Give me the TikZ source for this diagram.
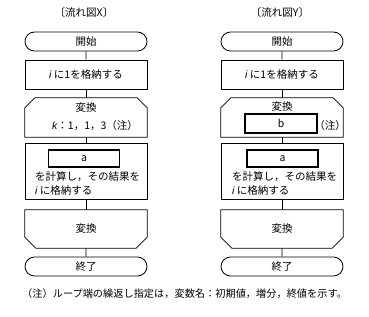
\documentclass[tikz,border=0pt]{standalone}
\usepackage{fontspec}
\setmainfont{Noto Sans CJK JP}
\newfontfamily\lib{Liberation Sans}
\usetikzlibrary{shapes.misc,calc}
\newcommand\vi[1]{{\lib\itshape #1}}
\begin{document}
\begin{tikzpicture}[x=1pt,y=-1pt,
  every node/.style={font=\fontsize{10.5}{12}\selectfont},
  outl/.style={line width=0.8pt},
  term/.style={outl,draw,rounded rectangle,minimum width=122pt,minimum height=19pt,inner sep=0pt},
  proc/.style={outl,draw,rectangle,minimum width=122pt,inner sep=0pt},
  frame/.style={rectangle,minimum width=122pt,inner sep=0pt},
  inbox/.style={draw,line width=1.7pt,rectangle,minimum width=71pt,inner sep=0pt},
  txt/.style={inner sep=0pt},
  link/.style={outl}]
\useasboundingbox (0,0) rectangle (369,316);
\fill[white] (0,0) rectangle (369,316);
% ---------- flow X ----------
\node[txt] (titleX) at (84,13) {〔流れ図X〕};
\node[term] (startX) at (86,41.5) {開始};
\node[proc,minimum height=29pt] (initX) at (86,74.5) {\vi{i} に1を格納する};
\node[frame,minimum height=39pt] (loopX) at (86,117.5) {};
\draw[outl] (loopX.south west) -- ($(loopX.north west)+(0,10)$) -- ($(loopX.north west)+(10,0)$)
  -- ($(loopX.north east)+(-10,0)$) -- ($(loopX.north east)+(0,10)$) -- (loopX.south east) -- cycle;
\node[txt] (hX) at (86,108) {変換};
\node[txt,anchor=west] (kX) at (52,126) {\vi{k}：1，1，3（注）};
\node[proc,minimum height=56pt] (calcX) at (86,171) {};
\node[inbox,minimum height=17pt] (aX) at (84,158.5) {a};
\node[txt,anchor=west] (c1X) at (35,177) {を計算し，その結果を};
\node[txt,anchor=west] (c2X) at (35,191) {\vi{i} に格納する};
\node[frame,minimum height=38pt] (endlX) at (86,229) {};
\draw[outl] (endlX.north west) -- (endlX.north east) -- ($(endlX.south east)+(0,-11)$) -- ($(endlX.south east)+(-11,0)$)
  -- ($(endlX.south west)+(11,0)$) -- ($(endlX.south west)+(0,-11)$) -- cycle;
\node[txt] (eX) at (86,229) {変換};
\node[term] (stopX) at (86,266.5) {終了};
\draw[link] (startX) -- (initX);
\draw[link] (initX) -- (loopX);
\draw[link] (loopX) -- (calcX);
\draw[link] (calcX) -- (endlX);
\draw[link] (endlX) -- (stopX);
% ---------- flow Y ----------
\node[txt] (titleY) at (280,13) {〔流れ図Y〕};
\node[term] (startY) at (282,41.5) {開始};
\node[proc,minimum height=29pt] (initY) at (282,74.5) {\vi{i} に1を格納する};
\node[frame,minimum height=39pt] (loopY) at (282,117.5) {};
\draw[outl] (loopY.south west) -- ($(loopY.north west)+(0,10)$) -- ($(loopY.north west)+(10,0)$)
  -- ($(loopY.north east)+(-10,0)$) -- ($(loopY.north east)+(0,10)$) -- (loopY.south east) -- cycle;
\node[txt] (hY) at (282,107) {変換};
\node[inbox,minimum height=19pt,minimum width=72pt] (bY) at (281,123.5) {b};
\node[txt] (nY) at (330,126) {（注）};
\node[proc,minimum height=56pt] (calcY) at (282,171) {};
\node[inbox,minimum height=17pt] (aY) at (282.5,158.5) {a};
\node[txt,anchor=west] (c1Y) at (232,177) {を計算し，その結果を};
\node[txt,anchor=west] (c2Y) at (232,191) {\vi{i} に格納する};
\node[frame,minimum height=38pt] (endlY) at (282,229) {};
\draw[outl] (endlY.north west) -- (endlY.north east) -- ($(endlY.south east)+(0,-11)$) -- ($(endlY.south east)+(-11,0)$)
  -- ($(endlY.south west)+(11,0)$) -- ($(endlY.south west)+(0,-11)$) -- cycle;
\node[txt] (eY) at (282,229) {変換};
\node[term] (stopY) at (282,266.5) {終了};
\draw[link] (startY) -- (initY);
\draw[link] (initY) -- (loopY);
\draw[link] (loopY) -- (calcY);
\draw[link] (calcY) -- (endlY);
\draw[link] (endlY) -- (stopY);
% ---------- note ----------
\node[txt,anchor=west,font=\fontsize{10.2}{12}\selectfont] (note) at (22,294) {（注）ループ端の繰返し指定は，変数名：初期値，増分，終値を示す。};
\end{tikzpicture}
\end{document}
